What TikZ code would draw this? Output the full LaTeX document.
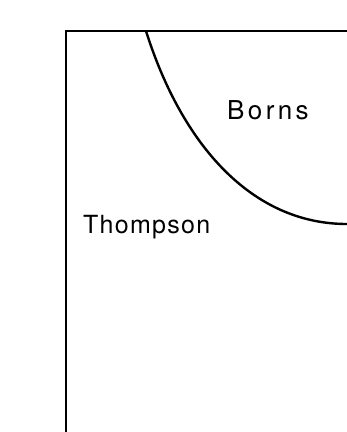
\documentclass[tikz,border=0pt]{standalone}
\usepackage{fontspec}
\setmainfont{TeX Gyre Heros}
\begin{document}
\begin{tikzpicture}[x=1pt, y=-1pt]
        \tikzset{region/.style={inner sep=0pt, anchor=base west, font=\fontsize{25}{25}\selectfont}}
        \useasboundingbox (0,0) rectangle (347,432);
        % frame
        \draw[line width=2pt] (66,432) -- (66,31) -- (347,31);
        % boundary between the two regions
        \draw[line width=2.4pt] (146,31) .. controls (182,145) and (252,224) .. (347,224);
        \node[region, font=\fontsize{26}{26}\selectfont] (borns) at (227,119) {\addfontfeature{LetterSpace=13}Borns};
        \node[region] (thompson) at (83,233) {\addfontfeature{LetterSpace=5}Thompson};
    \end{tikzpicture}
\end{document}
